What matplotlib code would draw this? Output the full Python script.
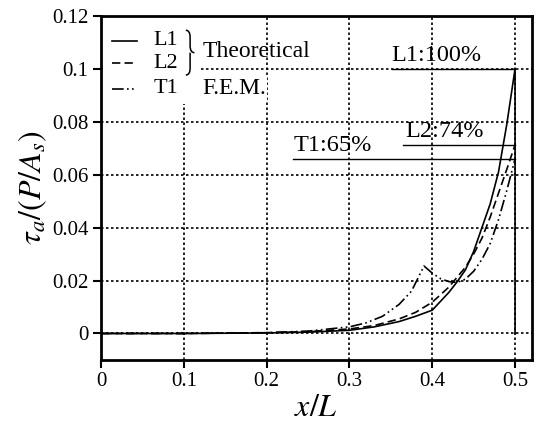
import matplotlib
matplotlib.use("Agg")
import matplotlib.pyplot as plt
from matplotlib.patches import Rectangle, PathPatch
from matplotlib.path import Path

plt.rcParams['font.family'] = ['Liberation Serif', 'DejaVu Serif']
plt.rcParams['mathtext.fontset'] = 'stix'

# data
l1_x = [0, 0.1, 0.2, 0.25, 0.3, 0.33, 0.36, 0.38, 0.4, 0.42, 0.43, 0.44, 0.45, 0.46, 0.47, 0.48, 0.49, 0.5, 0.5]
l1_y = [0, 0, 0.0002, 0.0005, 0.0012, 0.0025, 0.0045, 0.0065, 0.0088, 0.0155, 0.0195, 0.024, 0.031, 0.040, 0.049, 0.061, 0.079, 0.100, 0]

l2_x = [0, 0.1, 0.2, 0.25, 0.3, 0.33, 0.36, 0.38, 0.4, 0.42, 0.44, 0.45, 0.46, 0.47, 0.48, 0.49, 0.5]
l2_y = [0, 0, 0.0003, 0.0007, 0.0017, 0.003, 0.0055, 0.008, 0.0118, 0.0175, 0.025, 0.030, 0.036, 0.044, 0.053, 0.062, 0.0713]

t1_x = [0, 0.1, 0.2, 0.25, 0.3, 0.32, 0.34, 0.36, 0.375, 0.39, 0.40, 0.41, 0.42, 0.43, 0.44, 0.45, 0.46, 0.47, 0.48, 0.49, 0.5]
t1_y = [0, 0, 0.0003, 0.0009, 0.0025, 0.0040, 0.0065, 0.011, 0.016, 0.0255, 0.0228, 0.0207, 0.0196, 0.0193, 0.0205, 0.0235, 0.028, 0.034, 0.043, 0.054, 0.066]

ann_labels = ['L1:100%', 'L2:74%', 'T1:65%']
ann_start = [0.351, 0.365, 0.232]
ann_text_x = [0.351, 0.367, 0.232]

xticks = [0, 0.1, 0.2, 0.3, 0.4, 0.5]
yticks = [0, 0.02, 0.04, 0.06, 0.08, 0.1, 0.12]
ytick_labels = ['0', '0.02', '0.04', '0.06', '0.08', '0.1', '0.12']

fig = plt.figure(figsize=(5.37, 4.28), dpi=100)
ax = fig.add_axes([0.188, 0.159, 0.802, 0.804])

ls_l2 = (0, (5, 2.5))
ls_t1 = (0, (7, 2, 1, 2, 1, 2))

ax.plot(l1_x, l1_y, color='black', lw=1.2, ls='-', zorder=3)
ax.plot(l2_x, l2_y, color='black', lw=1.2, ls=ls_l2, zorder=3)
ax.plot(t1_x, t1_y, color='black', lw=1.2, ls=ls_t1, zorder=3)

# peak annotations
peaks = [max(l1_y), max(l2_y), max(t1_y)]
for lab, x0, xt, yp in zip(ann_labels, ann_start, ann_text_x, peaks):
    ax.plot([x0, 0.5], [yp, yp], color='black', lw=1.0, zorder=3)
    ax.annotate(lab, xy=(xt, yp), xytext=(0, 2), textcoords='offset points',
                ha='left', va='bottom', fontsize=17.5, zorder=4)

ax.set_xlim(0, 0.52)
ax.set_ylim(-0.01, 0.12)
ax.set_xticks(xticks)
ax.set_xticklabels(['0', '0.1', '0.2', '0.3', '0.4', '0.5'])
ax.set_yticks(yticks)
ax.set_yticklabels(ytick_labels)
ax.tick_params(direction='out', length=6, width=1.5, labelsize=15, pad=3)
ax.grid(True, color='black', ls=(0, (1.5, 1.5)), lw=1.2)
ax.set_axisbelow(True)
for s in ax.spines.values():
    s.set_linewidth(2)

ax.set_xlabel(r'$x/L$', fontsize=23, labelpad=2)
ax.set_ylabel(r'$\tau_a/(P/A_s)$', fontsize=23, labelpad=2)

# hand-made legend on a white patch
ax.add_patch(Rectangle((0.005, 0.745), 0.228, 0.25, transform=ax.transAxes,
                       facecolor='white', edgecolor='none', zorder=2))
leg_y = [0.928, 0.862, 0.788]
leg_names = ['L1', 'L2', 'T1']
for y, name, ls in zip(leg_y, leg_names, ['-', ls_l2, ls_t1]):
    ax.plot([0.026, 0.084], [y, y], transform=ax.transAxes, color='black',
            lw=1.2, ls=ls, zorder=4)
    ax.text(0.121, y, name, transform=ax.transAxes, fontsize=16,
            va='center', ha='left', zorder=4)

# curly brace grouping L1 and L2
bx, bw = 0.197, 0.02
btop, bbot = 0.958, 0.828
bmid = (btop + bbot) / 2
r = 0.02
verts = [(bx, btop), (bx + bw / 2, btop), (bx + bw / 2, btop - r),
         (bx + bw / 2, bmid + r),
         (bx + bw / 2, bmid), (bx + bw, bmid),
         (bx + bw / 2, bmid), (bx + bw / 2, bmid - r),
         (bx + bw / 2, bbot + r),
         (bx + bw / 2, bbot), (bx, bbot)]
codes = [Path.MOVETO, Path.CURVE3, Path.CURVE3, Path.LINETO,
         Path.CURVE3, Path.CURVE3, Path.MOVETO, Path.CURVE3,
         Path.LINETO, Path.CURVE3, Path.CURVE3]
ax.add_patch(PathPatch(Path(verts, codes), transform=ax.transAxes,
                       facecolor='none', edgecolor='black', lw=1.1, zorder=4))

ax.text(0.235, 0.895, 'Theoretical', transform=ax.transAxes, fontsize=17,
        va='center', ha='left', zorder=4)
ax.text(0.235, 0.788, 'F.E.M.', transform=ax.transAxes, fontsize=17,
        va='center', ha='left', zorder=4,
        bbox=dict(facecolor='white', edgecolor='none', pad=1))

fig.savefig('out.png', dpi=100)
